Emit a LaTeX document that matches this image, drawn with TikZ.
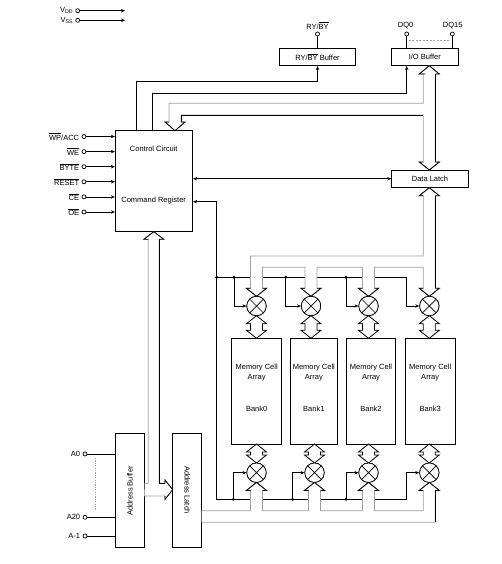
\documentclass[tikz,border=0pt]{standalone}
\usepackage{fontspec}
\setmainfont{Liberation Sans}
\usetikzlibrary{arrows.meta}
\definecolor{busgray}{RGB}{160,160,160}
\newcommand\ovl[1]{$\overline{\mbox{#1}}$}
\newcommand\hdn[2]{\draw[busk] (#1-6,#2-8) -- (#1-10,#2-8) -- (#1,#2) -- (#1+10,#2-8) -- (#1+6,#2-8);}
\newcommand\hup[2]{\draw[busk] (#1-6,#2+8) -- (#1-10,#2+8) -- (#1,#2) -- (#1+10,#2+8) -- (#1+6,#2+8);}
\newcommand\dbl[3]{\draw[busk, fill=white] (#1,#2) -- (#1+10,#2+8) -- (#1+6,#2+8) -- (#1+6,#3-8) -- (#1+10,#3-8) -- (#1,#3) -- (#1-10,#3-8) -- (#1-6,#3-8) -- (#1-6,#2+8) -- (#1-10,#2+8) -- cycle;}
\begin{document}
\begin{tikzpicture}[x=1pt,y=-1pt, line width=0.7pt,
 box/.style={draw, line width=0.8pt, inner sep=0pt},
 txt/.style={font=\fontsize{7.5}{9}\selectfont, inner sep=0pt},
 pin/.style={circle, draw, line width=0.7pt, inner sep=0pt, minimum size=4pt, fill=white},
 arr/.style={-{Stealth[length=4pt,width=3.4pt]}, line width=0.7pt},
 darr/.style={{Stealth[length=4pt,width=3.4pt]}-{Stealth[length=4pt,width=3.4pt]}, line width=0.7pt},
 bus/.style={draw=busgray, fill=white, line width=0.8pt, line join=miter},
 busk/.style={draw=black, line width=0.8pt, line join=miter},
 dot/.style={circle, fill, inner sep=0pt, minimum size=3.2pt},
 mux/.style={circle, draw, line width=0.7pt, minimum size=19.4pt, inner sep=0pt, fill=white,
   path picture={\draw[line width=0.7pt] (path picture bounding box.north west) -- (path picture bounding box.south east)
     (path picture bounding box.north east) -- (path picture bounding box.south west);}}]
\useasboundingbox (0,0) rectangle (501,564);

% ---------- boxes ----------
\node[box, minimum width=77.4pt, minimum height=101pt] (ctrl) at (154,181.2) {};
\node[txt] at (153.7,149.3) {Control Circuit};
\node[txt] at (153.7,201) {Command Register};
\node[box, txt, minimum width=76.4pt, minimum height=17.4pt] (ry) at (317.5,57) {RY/\ovl{BY} Buffer};
\node[box, txt, minimum width=67.7pt, minimum height=17.4pt] (io) at (424.8,57) {I/O Buffer};
\node[box, txt, minimum width=76.6pt, minimum height=17.7pt] (dl) at (430,178.8) {Data Latch};
\node[box, minimum width=50pt, minimum height=105.7pt] (bk0) at (256.7,391.2) {};
\node[box, minimum width=47pt, minimum height=105.7pt] (bk1) at (313.8,391.2) {};
\node[box, minimum width=49.4pt, minimum height=105.7pt] (bk2) at (371,391.2) {};
\node[box, minimum width=49.7pt, minimum height=105.7pt] (bk3) at (430.2,391.2) {};
\foreach \c/\n in {256.7/0, 313.8/1, 371/2, 430.2/3}{
  \node[txt, align=center, font=\fontsize{7.5}{10}\selectfont] at (\c,372.3) {Memory Cell\\Array};
  \node[txt] at (\c,409) {Bank\n};
}
\node[box, minimum width=28.6pt, minimum height=114pt] (abuf) at (130,490.3) {};
\node[txt, rotate=90] at (130,491) {Address Buffer};
\node[box, minimum width=29pt, minimum height=114pt] (alat) at (187.2,490.3) {};
\node[txt, rotate=-90] at (187.2,490) {Address Latch};

% ---------- supply pins ----------
\node[pin] (vdd) at (77.7,10.7) {};
\node[txt, anchor=east] at (73.5,10.7) {V\textsubscript{DD}};
\coordinate (vddE) at (125,10.7);
\draw[arr] (vdd) -- (vddE);
\node[pin] (vss) at (77.7,20.3) {};
\node[txt, anchor=east] at (73.5,20.3) {V\textsubscript{SS}};
\coordinate (vssE) at (125,20.3);
\draw[arr] (vss) -- (vssE);

% ---------- control inputs ----------
\node[pin] (in1) at (84,136.5) {};
\node[txt, anchor=east] at (79.5,136.5) {\ovl{WP}/ACC};
\node[pin] (in2) at (84,151.6) {};
\node[txt, anchor=east] at (79.5,151.6) {\ovl{WE}};
\node[pin] (in3) at (84,166.7) {};
\node[txt, anchor=east] at (79.5,166.7) {\ovl{BYTE}};
\node[pin] (in4) at (84,181.8) {};
\node[txt, anchor=east] at (79.5,181.8) {\ovl{RESET}};
\node[pin] (in5) at (84,196.9) {};
\node[txt, anchor=east] at (79.5,196.9) {\ovl{CE}};
\node[pin] (in6) at (84,212) {};
\node[txt, anchor=east] at (79.5,212) {\ovl{OE}};
\foreach \i in {1,...,6}{\draw[arr] (in\i) -- (in\i -| ctrl.west);}

% ---------- top pins ----------
\node[pin] (rypin) at (317.5,34) {};
\node[txt] at (317.5,25.5) {RY/\ovl{BY}};
\draw (rypin) -- (rypin |- ry.north);
\node[pin] (dq0) at (406.7,34) {};
\node[txt] at (405.7,25.5) {DQ0};
\node[pin] (dq15) at (452.3,34) {};
\node[txt] at (452.7,25.5) {DQ15};
\draw (dq0) -- (dq0 |- io.north);
\draw (dq15) -- (dq15 |- io.north);
\draw[busgray, dashed, dash pattern=on 2pt off 1.5pt, line width=0.6pt] (408.7,40.7) -- (450.3,40.7);

% ---------- address inputs ----------
\node[pin] (a0) at (85,454) {};
\node[txt, anchor=east] at (80.5,454) {A0};
\node[pin] (a20) at (85,517.3) {};
\node[txt, anchor=east] at (80.5,517.3) {A20};
\node[pin] (am1) at (85,536) {};
\node[txt, anchor=east] at (80.5,536) {A-1};
\draw (a0) -- (a0 -| abuf.west);
\draw (a20) -- (a20 -| abuf.west);
\draw (am1) -- (am1 -| abuf.west);
\draw[busgray, dash pattern=on 1.2pt off 1.2pt, line width=0.6pt] (95,458) -- (95,510.7);

% ---------- control-circuit signal lines ----------
\coordinate (c1) at (136.7,0);
\coordinate (c2) at (152.3,0);
\draw[arr] (ctrl.north -| c1) -- ++(0,-49) -| (ry.south);
\draw[arr] (ctrl.north -| c2) -- ++(0,-36.7) -| (io.south -| dq0);
\draw[darr] (ctrl.east |- dl.west) -- (dl.west);
\coordinate (cr) at (216.7,201.7);
\draw[arr] (cr) -- (ctrl.east |- cr);

% ---------- muxes (nodes, drawn later visually) ----------
\path
 (256.5,306) node[mux] (m0) {}
 (311,306) node[mux] (m1) {}
 (368.5,306) node[mux] (m2) {}
 (429.3,306) node[mux] (m3) {}
 (256.5,472.7) node[mux] (b0) {}
 (314.5,472.7) node[mux] (b1) {}
 (368.5,472.7) node[mux] (b2) {}
 (429.3,472.7) node[mux] (b3) {};

% mux select lines
\draw (cr) -- (216.7,499.3) -- (406.7,499.3);
\draw (216.7,277.3) -- (406.7,277.3);
\draw[arr] (406.7,277.3) |- (m3.west);
\draw[arr] (234,277.3) |- (m0.west);
\draw[arr] (285.7,277.3) |- (m1.west);
\draw[arr] (346,277.3) |- (m2.west);
\draw[arr] (406.7,499.3) |- (b3.west);
\draw[arr] (233.3,499.3) |- (b0.west);
\draw[arr] (292.7,499.3) |- (b1.west);
\draw[arr] (346,499.3) |- (b2.west);
\foreach \p in {(216.7,277.3),(234,277.3),(285.7,277.3),(346,277.3),(233.3,499.3),(292.7,499.3),(346,499.3)}
  \node[dot] at \p {};

% ---------- data bus: I/O buffer -> data latch, branch to control ----------
\draw[bus] (429.3,65.7) -- (439.3,74) -- (435.3,74) -- (435.3,162) -- (439.3,162) -- (429.3,170)
  -- (419.3,162) -- (423.3,162) -- (423.3,115) -- (181,115) -- (181,122) -- (185,122) -- (175,130.7)
  -- (165,122) -- (169,122) -- (169,103.3) -- (423.3,103.3) -- (423.3,74) -- (419.3,74) -- cycle;
\draw[busk] (435.3,74) -- (435.3,162);
\draw[busk] (423.3,115) -- (181,115) -- (181,122);
\draw[busk] (425.3,74) -- (419.3,74) -- (429.3,65.7) -- (439.3,74) -- (435.3,74);
\draw[busk] (423.3,162) -- (419.3,162) -- (429.3,170) -- (439.3,162) -- (435.3,162);
\draw[busk] (169,122) -- (165,122) -- (175,130.7) -- (185,122) -- (181,122);

% ---------- data bus: data latch -> top muxes ----------
\draw[bus] (429.3,187.7) -- (439.3,195.7) -- (435.3,195.7) -- (435.3,288.3) -- (439.3,288.3) -- (429.3,296.3)
  -- (419.3,288.3) -- (423.3,288.3) -- (423.3,267.3) -- (374.5,267.3) -- (374.5,288.3) -- (378.5,288.3)
  -- (368.5,296.3) -- (358.5,288.3) -- (362.5,288.3) -- (362.5,267.3) -- (317,267.3) -- (317,288.3)
  -- (321,288.3) -- (311,296.3) -- (301,288.3) -- (305,288.3) -- (305,267.3) -- (262.5,267.3)
  -- (262.5,288.3) -- (266.5,288.3) -- (256.5,296.3) -- (246.5,288.3) -- (250.5,288.3) -- (250.5,256)
  -- (423.3,256) -- (423.3,195.7) -- (419.3,195.7) -- cycle;
\draw[busk] (435.3,195.7) -- (435.3,288.3);
\hup{429.3}{187.7}
\hdn{256.5}{296.3}
\hdn{311}{296.3}
\hdn{368.5}{296.3}
\hdn{429.3}{296.3}

% ---------- address bus ----------
\draw[bus] (abuf.east |- 0,483.3) -- (148.3,483.3) -- (148.3,239.3) -- (143.8,239.3) -- (153.8,231.7)
  -- (163.8,239.3) -- (159.3,239.3) -- (159.3,483.3) -- (165,483.3) -- (165,480) -- (172.7,489.7)
  -- (165,499.4) -- (165,496) -- (144.3,496);
\draw[busk] (159.3,239.3) -- (159.3,483.3) -- (165,483.3);
\draw[busk] (148.3,239.3) -- (143.8,239.3) -- (153.8,231.7) -- (163.8,239.3) -- (159.3,239.3);
\draw[busk] (165,483.3) -- (165,480) -- (172.7,489.7) -- (165,499.4) -- (165,496);

% ---------- address latch -> bottom muxes ----------
\draw[bus] (201.7,510.7) -- (250.5,510.7) -- (250.5,490.4) -- (246.5,490.4) -- (256.5,482.4) -- (266.5,490.4)
  -- (262.5,490.4) -- (262.5,510.7) -- (308.5,510.7) -- (308.5,490.4) -- (304.5,490.4) -- (314.5,482.4)
  -- (324.5,490.4) -- (320.5,490.4) -- (320.5,510.7) -- (362.5,510.7) -- (362.5,490.4) -- (358.5,490.4)
  -- (368.5,482.4) -- (378.5,490.4) -- (374.5,490.4) -- (374.5,510.7) -- (423.3,510.7) -- (423.3,490.4)
  -- (419.3,490.4) -- (429.3,482.4) -- (439.3,490.4) -- (435.3,490.4) -- (435.3,522.3) -- (201.7,522.3);
\draw[busk] (435.3,490.4) -- (435.3,522.3);
\hup{256.5}{482.4}
\hup{314.5}{482.4}
\hup{368.5}{482.4}
\hup{429.3}{482.4}

% ---------- mux <-> bank double arrows ----------
\dbl{256.5}{315.7}{338.3}
\dbl{311}{315.7}{338.3}
\dbl{368.5}{315.7}{338.3}
\dbl{429.3}{315.7}{338.3}
\dbl{256.5}{444}{463}
\dbl{314.5}{444}{463}
\dbl{368.5}{444}{463}
\dbl{429.3}{444}{463}

% redraw muxes on top
\foreach \m in {m0,m1,m2,m3,b0,b1,b2,b3}{
  \node[mux] at (\m) {};
}
\end{tikzpicture}
\end{document}
